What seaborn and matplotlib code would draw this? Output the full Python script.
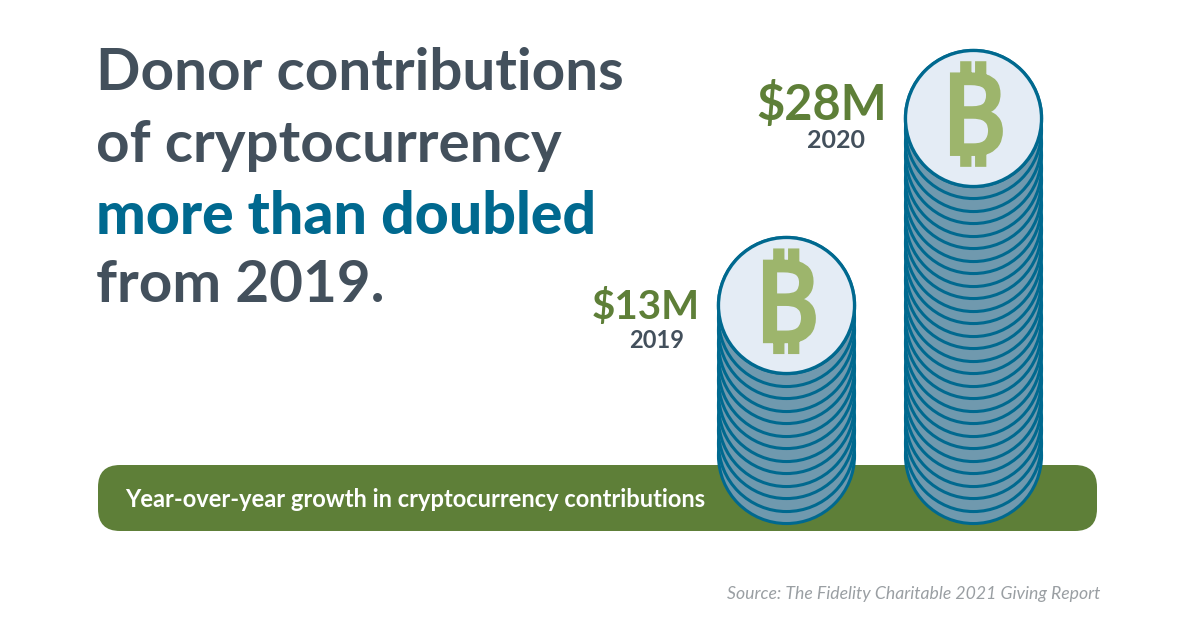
import matplotlib
matplotlib.use('Agg')
import matplotlib.pyplot as plt
import matplotlib.patheffects as pe
from matplotlib.patches import FancyBboxPatch
import pandas as pd
import seaborn as sns

# Donor contributions, $M - the picture stacks one coin per $M
years = ['2019', '2020']
amounts = [13, 28]
amount_labels = ['$13M', '$28M']

title_lines = ['Donor contributions', 'of cryptocurrency', 'more than doubled', 'from 2019.']
bar_text = 'Year-over-year growth in cryptocurrency contributions'
source_text = 'Source: The Fidelity Charitable 2021 Giving Report'

GREY = '#43505c'
BLUE = '#00698f'
GREEN = '#5e7f38'
COIN_SIDE = '#7099ae'
COIN_TOP = '#e4ecf5'
COIN_MARK = '#9db56c'

rows = []
for i, (year, amount) in enumerate(zip(years, amounts)):
    for coin in range(1, amount + 1):
        rows.append({'pos': i, 'year': year, 'coin': coin})
coins = pd.DataFrame(rows)
tops = coins.groupby('year', as_index=False).last()

sns.set_theme(style='white')
plt.rcParams['font.family'] = ['Lato', 'DejaVu Sans']

fig = plt.figure(figsize=(12, 6.27), dpi=100)

# background layer in pixel units
bg = fig.add_axes([0, 0, 1, 1])
bg.set_xlim(0, 1200)
bg.set_ylim(627, 0)
bg.axis('off')

bg.add_patch(FancyBboxPatch((120, 465 + 22), 955, 22, boxstyle='round,pad=22',
                            fc=GREEN, ec='none'))
bg.text(125, 499.5, bar_text, color='white', fontsize=17, fontweight='bold', va='center')
bg.text(1100, 594, source_text, color='#9a9fa3', fontsize=12.7, style='italic',
        ha='right', va='center')

line_y = [73, 145, 216, 286]
for line, y in zip(title_lines, line_y):
    highlight = line == 'more than doubled'
    bg.text(96, y, line, color=BLUE if highlight else GREY, fontsize=42.5 if highlight else 42,
            fontweight='black' if highlight else 'bold', va='center')

# coin stacks, y axis is the coin count
ax = fig.add_axes([0, 0, 1, 1], facecolor='none')
x_step = 973 - 786
ax.set_xlim(-786 / x_step, (1200 - 786) / x_step)
y_step = (455 - 118) / 27
ax.set_ylim(1 - (627 - 455) / y_step, 1 + 455 / y_step)
ax.axis('off')

sns.scatterplot(data=coins, x='pos', y='coin', s=9600, color=COIN_SIDE, edgecolor=BLUE,
                linewidth=2.2, legend=False, ax=ax)
sns.scatterplot(data=tops, x='pos', y='coin', s=9600, color=COIN_TOP, edgecolor=BLUE,
                linewidth=2.4, legend=False, ax=ax)

for _, row in tops.iterrows():
    mark = ax.text(row['pos'], row['coin'] - 0.55, '\u20bf', color=COIN_MARK, fontsize=80, fontweight='bold',
                   family=['Noto Sans', 'Inter', 'Roboto', 'Open Sans', 'Liberation Sans', 'DejaVu Sans'],
                   ha='center', va='center')
    # the glyph is thin in this font, thicken it
    mark.set_path_effects([pe.withStroke(linewidth=3, foreground=COIN_MARK, joinstyle='miter')])

# value labels beside the coin tops
label_sizes = [29, 35]
label_right = [700, 887]
label_y = [307, 104]
year_x = [657, 836]
year_y = [341, 141]
year_sizes = [17, 18]
for i in range(2):
    bg.text(label_right[i], label_y[i], amount_labels[i], color=GREEN, fontsize=label_sizes[i],
            fontweight='bold', ha='right', va='center')
    bg.text(year_x[i], year_y[i], years[i], color=GREY, fontsize=year_sizes[i],
            fontweight='bold', ha='center', va='center')

fig.savefig('out.png', dpi=100, facecolor='white')
